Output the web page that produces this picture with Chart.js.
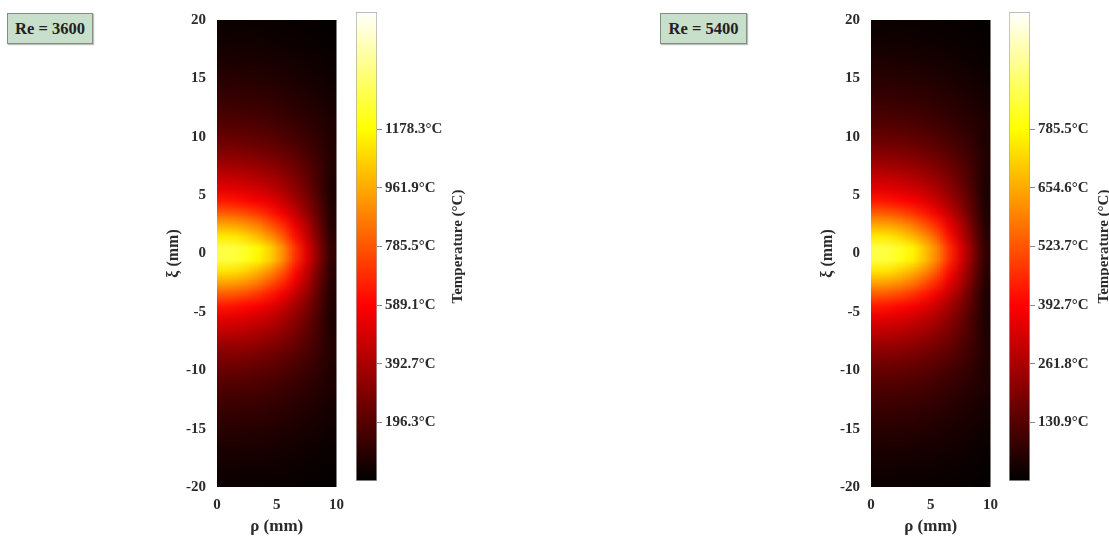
<!DOCTYPE html>
<html><head><meta charset="utf-8">
<script src="https://cdn.jsdelivr.net/npm/chart.js@4.4.0/dist/chart.umd.min.js"></script>
<style>
html,body{margin:0;padding:0;background:#fff;}
body{width:1109px;height:540px;overflow:hidden;position:relative;font-family:'Liberation Serif','Times New Roman',serif;}
canvas{position:absolute;top:0;}
.rebox{position:absolute;top:13px;height:31px;background:#c8dfcb;border:1px solid #7f8f81;box-shadow:1px 1px 1px rgba(0,0,0,0.25);
  font-weight:bold;font-size:16.5px;color:#222;display:flex;align-items:center;justify-content:center;box-sizing:border-box;}
</style></head><body>
<div class="rebox" style="left:7px;width:86px;">Re = 3600</div>
<div class="rebox" style="left:660px;width:87px;">Re = 5400</div>
<canvas id="hA" width="213" height="540" style="left:140px"></canvas>
<canvas id="cA" width="130" height="540" style="left:350px"></canvas>
<canvas id="hB" width="213" height="540" style="left:794px"></canvas>
<canvas id="cB" width="106" height="540" style="left:1003px"></canvas>
<script>
// ---- data ----
const rhoCenters = [0.5,1.5,2.5,3.5,4.5,5.5,6.5,7.5,8.5,9.5];
const xiCenters = [19.5,18.5,17.5,16.5,15.5,14.5,13.5,12.5,11.5,10.5,9.5,8.5,7.5,6.5,5.5,4.5,3.5,2.5,1.5,0.5,
  -0.5,-1.5,-2.5,-3.5,-4.5,-5.5,-6.5,-7.5,-8.5,-9.5,-10.5,-11.5,-12.5,-13.5,-14.5,-15.5,-16.5,-17.5,-18.5,-19.5];
const rhoTicks = [0,5,10];
const xiTicks = [-20,-15,-10,-5,0,5,10,15,20];

// temperatures (°C), rows from xi = 19.5 (top) to xi = -19.5, columns rho = 0.5 .. 9.5
const re3600Temps = [
[28,28,27,26,24,22,19,17,14,10],
[39,38,37,36,33,30,27,23,19,14],
[51,51,49,47,44,40,35,30,25,19],
[66,65,63,61,56,52,46,39,33,24],
[83,82,79,76,71,64,57,49,41,31],
[102,101,97,94,87,79,70,60,50,37],
[124,122,119,114,107,97,86,73,61,46],
[147,146,141,136,127,115,101,87,73,55],
[178,177,171,164,153,139,123,105,87,66],
[213,211,205,196,184,167,147,124,100,71],
[259,256,248,237,222,201,176,148,117,75],
[314,312,301,286,267,242,210,173,132,79],
[381,375,364,345,322,290,249,202,145,77],
[456,449,433,410,383,342,292,228,155,73],
[534,526,507,481,443,395,331,256,166,69],
[644,631,605,573,528,464,386,296,187,71],
[801,785,753,705,641,561,457,344,208,80],
[974,959,925,867,779,682,545,409,244,88],
[1131,1120,1074,1007,916,792,622,452,271,102],
[1288,1275,1224,1159,1063,915,708,515,309,116],
[1280,1268,1218,1152,1057,910,703,511,306,114],
[1120,1109,1064,998,908,785,617,448,268,100],
[962,948,914,857,770,675,540,405,241,87],
[792,776,745,698,635,556,453,341,206,79],
[640,627,601,570,525,461,384,294,186,70],
[532,524,505,479,441,393,330,255,165,68],
[455,448,432,409,382,341,291,227,154,72],
[381,375,364,345,322,290,249,202,145,77],
[315,312,302,287,268,243,211,174,132,79],
[261,258,250,239,223,202,177,149,117,75],
[216,213,207,199,185,168,149,125,101,71],
[181,179,173,166,156,141,125,107,88,66],
[151,149,144,139,129,117,104,89,74,55],
[127,125,122,117,109,99,88,74,62,47],
[104,104,100,96,89,81,72,61,51,39],
[85,84,81,78,73,67,58,50,42,32],
[68,67,65,63,58,53,47,40,33,25],
[53,53,51,49,46,42,36,31,26,20],
[40,40,38,37,35,32,28,24,20,15],
[29,29,28,27,25,23,20,17,14,11]
];
const re5400Temps = [
[19,19,18,17,16,15,13,11,9,7],
[26,25,25,24,22,20,18,16,13,9],
[34,34,33,31,29,27,23,20,17,12],
[44,44,42,40,37,35,31,26,22,16],
[55,55,53,51,47,43,38,33,27,20],
[68,67,65,63,58,53,47,40,33,25],
[83,82,79,76,71,65,57,49,41,31],
[98,98,94,90,85,76,68,59,48,37],
[119,117,114,109,102,93,82,70,58,44],
[142,140,137,131,122,111,98,82,67,47],
[173,171,166,158,148,134,117,99,77,50],
[209,207,201,191,178,161,140,115,88,53],
[254,250,243,230,214,193,166,135,96,51],
[304,299,289,273,255,228,195,152,103,49],
[356,351,338,321,295,263,221,171,111,46],
[429,421,403,382,352,309,257,197,125,47],
[534,523,502,470,427,374,305,229,139,53],
[649,639,617,578,519,455,363,273,163,59],
[754,747,716,671,611,528,415,301,181,68],
[859,850,814,768,690,598,465,340,204,76],
[853,844,809,763,686,594,462,338,203,75],
[747,740,709,665,605,523,411,298,179,67],
[641,631,609,571,513,450,359,270,161,58],
[528,517,497,465,423,370,302,227,137,52],
[426,418,400,379,350,307,255,196,124,47],
[354,349,336,319,293,262,220,170,110,45],
[303,298,288,272,254,227,194,151,103,48],
[254,250,243,230,214,193,166,135,96,51],
[210,208,202,192,179,162,141,116,88,53],
[174,172,166,158,149,135,118,100,78,50],
[144,142,139,133,123,112,99,83,68,48],
[121,119,116,111,104,94,83,71,59,45],
[101,100,97,93,87,78,69,59,49,37],
[85,84,81,78,73,66,59,50,41,32],
[70,69,67,64,60,54,48,41,34,26],
[57,56,54,53,48,44,39,34,28,21],
[46,45,44,41,39,35,31,27,22,17],
[36,35,34,33,31,28,24,21,18,13],
[27,27,25,25,23,21,19,16,13,10],
[20,20,19,18,17,16,13,12,10,7]
];

// colour bar ranges and tick labels
const re3600ColorMax = 1571.0;
const re5400ColorMax = 1047.2;
const re3600BarTicks = [196.3,392.7,589.1,785.5,981.9,1178.3];
const re3600BarLabels = ['196.3°C','392.7°C','589.1°C','785.5°C','961.9°C','1178.3°C'];
const re5400BarTicks = [130.9,261.8,392.7,523.7,654.6,785.5];
const re5400BarLabels = ['130.9°C','261.8°C','392.7°C','523.7°C','654.6°C','785.5°C'];

// ---- rendering ----
const FONT = "'Liberation Serif', 'Times New Roman', serif";
const TXT = '#2b2b2b';

function hot(f){
  f = Math.max(0, Math.min(1, f));
  const r = Math.min(1, f/0.375);
  const g = Math.max(0, Math.min(1, (f-0.375)/0.375));
  const b = Math.max(0, Math.min(1, (f-0.75)/0.25));
  return [Math.round(r*255), Math.round(g*255), Math.round(b*255)];
}

function heatPlugin(temps, cmax){
  return {
    id: 'heat',
    beforeDatasetsDraw(chart){
      const {ctx, scales:{x, y}, chartArea} = chart;
      const rows = temps.length, cols = temps[0].length;
      const off = document.createElement('canvas');
      off.width = cols; off.height = rows;
      const octx = off.getContext('2d');
      const img = octx.createImageData(cols, rows);
      temps.forEach((row, r) => row.forEach((v, c) => {
        const [R,G,B] = hot(v / cmax);
        const i = (r*cols + c)*4;
        img.data[i]=R; img.data[i+1]=G; img.data[i+2]=B; img.data[i+3]=255;
      }));
      octx.putImageData(img, 0, 0);
      const dRho = rhoCenters[1]-rhoCenters[0];
      const dXi = xiCenters[0]-xiCenters[1];
      const xL = x.getPixelForValue(rhoCenters[0]-dRho/2);
      const xR = x.getPixelForValue(rhoCenters[cols-1]+dRho/2);
      const yT = y.getPixelForValue(xiCenters[0]+dXi/2);
      const yB = y.getPixelForValue(xiCenters[rows-1]-dXi/2);
      ctx.save();
      ctx.beginPath(); ctx.rect(chartArea.left, chartArea.top, chartArea.width, chartArea.height); ctx.clip();
      ctx.imageSmoothingEnabled = true;
      ctx.imageSmoothingQuality = 'low';
      ctx.drawImage(off, xL, yT, xR-xL, yB-yT);
      ctx.restore();
    }
  };
}

function heatChart(id, temps, cmax){
  const tickFont = {family: FONT, size: 15, weight: 'bold'};
  return new Chart(document.getElementById(id), {
    type: 'scatter',
    data: {datasets: [{data: [], pointRadius: 0}]},
    options: {
      responsive: false, animation: false,
      layout: {padding: {top: 14, right: 9, left: 0, bottom: 0}},
      plugins: {legend: {display: false}, tooltip: {enabled: false}},
      scales: {
        x: {
          type: 'linear', min: 0, max: 10,
          afterBuildTicks: s => { s.ticks = rhoTicks.map(v => ({value: v})); },
          afterFit: s => { s.height = 53; },
          grid: {display: false, drawTicks: false}, border: {display: false},
          ticks: {font: tickFont, color: TXT, padding: 9, maxRotation: 0},
          title: {display: true, text: 'ρ (mm)', color: TXT, font: {family: FONT, size: 17, weight: 'bold'}, padding: {top: 0, bottom: 3}}
        },
        y: {
          type: 'linear', min: -20, max: 20,
          afterBuildTicks: s => { s.ticks = xiTicks.map(v => ({value: v})); },
          afterFit: s => { s.width = 77; },
          grid: {display: false, drawTicks: false}, border: {display: false},
          ticks: {font: tickFont, color: TXT, padding: 11},
          title: {display: true, text: 'ξ (mm)', color: TXT, font: {family: FONT, size: 16, weight: 'bold'}, padding: {top: 24, bottom: 0}}
        }
      }
    },
    plugins: [heatPlugin(temps, cmax)]
  });
}

function barChart(id, cmax, tickVals, tickLabels, titleX){
  const barW = 21, padL = 6;
  const titlePlugin = {
    id: 'cbTitle',
    afterDraw(chart){
      const ctx = chart.ctx;
      const ca = chart.chartArea;
      ctx.save();
      ctx.translate(titleX, (ca.top + ca.bottom) / 2);
      ctx.rotate(-Math.PI/2);
      ctx.font = "bold 15px " + FONT;
      ctx.fillStyle = TXT;
      ctx.textAlign = 'center'; ctx.textBaseline = 'middle';
      ctx.fillText('Temperature (°C)', 0, 0);
      ctx.restore();
    }
  };
  return new Chart(document.getElementById(id), {
    type: 'bar',
    data: {labels: ['T'], datasets: [{
      data: [[0, cmax]],
      backgroundColor: (c) => {
        const ch = c.chart;
        if (!ch.chartArea) return '#000';
        const y0 = ch.scales.y.getPixelForValue(0), y1 = ch.scales.y.getPixelForValue(cmax);
        const g = ch.ctx.createLinearGradient(0, y0, 0, y1);
        g.addColorStop(0, '#000000'); g.addColorStop(0.375, '#ff0000');
        g.addColorStop(0.75, '#ffff00'); g.addColorStop(1, '#ffffff');
        return g;
      },
      borderColor: '#a8a8a8', borderWidth: 1, borderSkipped: false,
      barPercentage: 1, categoryPercentage: 1
    }]},
    options: {
      responsive: false, animation: false,
      layout: {padding: {top: 8, bottom: 59, left: padL, right: 0}},
      plugins: {legend: {display: false}, tooltip: {enabled: false}},
      scales: {
        x: {display: false},
        y: {
          position: 'right', min: 0, max: cmax,
          afterBuildTicks: s => { s.ticks = tickVals.map(v => ({value: v})); },
          afterFit: s => { s.width = s.chart.width - padL - barW; },
          grid: {drawOnChartArea: false, drawTicks: true, tickLength: 5, color: '#8a8a8a'},
          border: {display: false},
          ticks: {font: {family: FONT, size: 15, weight: 'bold'}, color: TXT, padding: 3,
                  callback: (v, i) => tickLabels[i]}
        }
      }
    },
    plugins: [titlePlugin]
  });
}

heatChart('hA', re3600Temps, re3600ColorMax);
heatChart('hB', re5400Temps, re5400ColorMax);
barChart('cA', re3600ColorMax, re3600BarTicks, re3600BarLabels, 108);
barChart('cB', re5400ColorMax, re5400BarTicks, re5400BarLabels, 101);
</script>
</body></html>
